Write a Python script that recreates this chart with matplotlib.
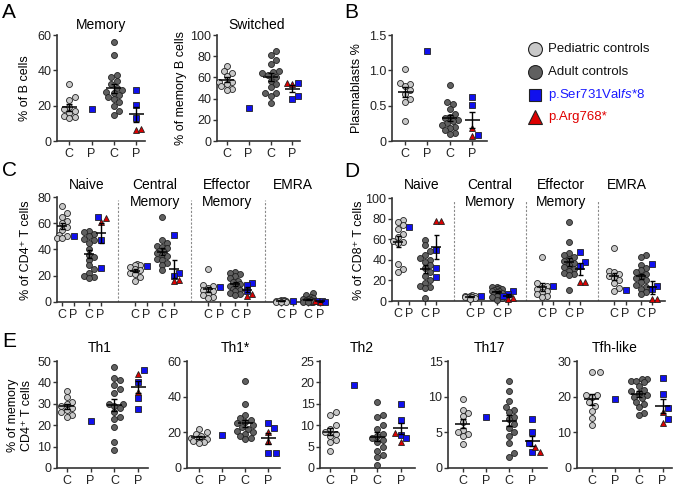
import numpy as np
import matplotlib
matplotlib.use('Agg')
import matplotlib.pyplot as plt

plt.rcParams['font.family'] = ['Liberation Sans', 'DejaVu Sans']
plt.rcParams['mathtext.fontset'] = 'custom'
plt.rcParams['mathtext.rm'] = 'Liberation Sans'
plt.rcParams['mathtext.it'] = 'Liberation Sans:italic'

W, H = 677, 486

# ---- A / B: B cell subsets (Memory, Switched, Plasmablasts)
b_ped = [
    [32.5, 25, 23, 19, 18, 17, 16, 14, 13.5, 13],
    [71, 66, 64, 61, 56, 56, 54, 52, 49, 48],
    [1.02, 0.82, 0.80, 0.78, 0.72, 0.66, 0.60, 0.55, 0.28],
]
b_p1 = [18, 31, 1.27]
b_adult = [
    [56, 48.5, 37.5, 36, 34, 32, 30, 29, 28, 27, 26, 25, 24, 22, 20, 17, 14.5],
    [85, 81, 76, 73, 66, 65, 64, 62, 60, 57, 54, 51, 45, 45, 42, 36],
    [0.79, 0.55, 0.52, 0.45, 0.38, 0.34, 0.32, 0.30, 0.28, 0.25, 0.22, 0.20, 0.18, 0.15, 0.12, 0.10],
]
b_blue = [[29, 20.5, 13], [55, 42, 40], [0.62, 0.51, 0.09]]
b_red = [[6.5, 7], [55, 54], [0.19, 0.07]]

# ---- C: CD4 subsets (Naive, Central Memory, Effector Memory, EMRA)
cd4_ped = [
    [73, 68, 65, 62, 60, 57, 55, 51, 50, 48.5, 48.5],
    [29, 28, 28, 27, 25, 24, 22, 21, 19, 16],
    [25, 13, 12, 11, 9, 8, 6, 5, 4, 3],
    [1.5, 1.2, 1, 1, 0.8, 0.5, 0.5, 0.3, 0.2, 0.1],
]
cd4_p1 = [50.5, 27.5, 11.5, 0.5]
cd4_adult = [
    [54, 53, 52, 50, 48, 47, 45, 40, 36, 34, 32, 28, 25, 22, 20, 19, 18],
    [65, 47, 45, 43, 42, 41, 39, 38, 37, 36, 35, 33, 32, 30, 28, 24],
    [23, 22, 21, 20, 18, 16, 15, 14, 13, 12, 11, 10, 9, 8, 7, 6, 5],
    [7, 5, 4, 3, 2.5, 2, 1.5, 1.2, 1, 0.8, 0.5, 0.5, 0.3, 0.2, 0.1, 0.1],
]
cd4_blue = [[64.5, 47, 26], [51, 22, 20], [14.5, 13, 8.5], [1.0, 0.6, 0.3]]
cd4_red = [[64, 61], [16, 17], [4.5, 6], [0.2, 0.4]]

# ---- D: CD8 subsets
cd8_ped = [
    [79, 77, 74, 70, 65, 62, 58, 57, 56, 36, 31, 28],
    [6, 5, 5, 4.5, 4, 4, 4, 3.5, 3, 2],
    [43, 17, 15, 13, 12, 10, 9, 7, 5, 4],
    [51, 29, 28, 26, 24, 22, 20, 17, 13, 10],
]
cd8_p1 = [71.5, 4.5, 14.5, 11]
cd8_adult = [
    [59, 54, 49, 45, 42, 40, 38, 35, 32, 28, 24, 20, 17, 15, 14, 13, 3],
    [14, 13.5, 13, 12, 12, 11, 10, 10, 9, 8, 7, 6, 5, 4, 3, 1],
    [77, 57, 47, 45, 43, 41, 39, 37, 35, 33, 31, 29, 27, 26, 25, 11],
    [45, 43, 35, 32, 30, 28, 26, 24, 22, 20, 18, 16, 14, 12, 9, 7],
]
cd8_blue = [[50, 32, 23], [9.5, 7, 5], [48, 38, 34], [36, 15, 12]]
cd8_red = [[78, 78], [3, 2], [18, 18], [2, 2]]

# ---- E: Th subsets (Th1, Th1*, Th2, Th17, Tfh-like)
th_ped = [
    [36, 33, 31, 30, 29, 28, 27, 26, 25, 24],
    [22, 20, 19, 18, 17, 16, 16, 15, 14.5, 14],
    [13, 12.5, 10, 9, 8.5, 8, 7.5, 6.5, 6, 4],
    [9.7, 8.2, 7.7, 7.3, 6.4, 5.3, 5, 4.7, 4.5, 3.3],
    [27, 27, 20.5, 20.5, 20, 18.5, 17.5, 16, 14, 12],
]
th_p1 = [22.1, 18.7, 19.5, 7.2, 19.3]
th_adult = [
    [47, 42, 41, 39, 37, 35, 30, 30, 29, 28, 26, 24, 23, 19, 12, 8.5],
    [49, 36, 30, 28, 27, 26, 25, 24, 23, 22, 21, 20, 19, 18, 17, 16],
    [15.5, 12.5, 12, 10, 9, 8, 7.5, 7, 6.5, 6, 5, 4, 3, 2.5, 0.8],
    [12.2, 10.8, 9.4, 8.5, 8.2, 7.8, 7.2, 6.8, 6.2, 5.6, 5, 4.5, 3.5, 2.1, 1.6],
    [25, 25, 24.5, 24.5, 24, 23, 22, 21.5, 21, 20.5, 20, 19.5, 18.5, 18, 17, 15.5, 14.8],
]
th_blue = [[46, 40, 32.8, 27.8], [25, 22.5, 8.5, 8.5], [15, 11.3, 7.7, 7.1],
           [6.8, 5, 3.5, 2.3], [25.3, 20.7, 16.7, 13.6]]
th_red = [[44, 35.6], [20, 15], [6.1, 8.2], [3, 2.3], [15.8, 12.7]]

sections = ['Naive', 'Central\nMemory', 'Effector\nMemory', 'EMRA']
th_names = ['Th1', 'Th1*', 'Th2', 'Th17', 'Tfh-like']

MK = {
    'ped': dict(marker='o', ms=4.3, mfc='#c8c8c8'),
    'adult': dict(marker='o', ms=4.3, mfc='#606060'),
    'blue': dict(marker='s', ms=4.0, mfc='#1010ee'),
    'red': dict(marker='^', ms=4.4, mfc='#dd0000'),
}

fig = plt.figure(figsize=(W / 100, H / 100), dpi=100)


def px_axes(x0, y0, x1, y1):
    return fig.add_axes([x0 / W, 1 - y1 / H, (x1 - x0) / W, (y1 - y0) / H])


def prism(ax, ylim, yticks, xlim, xpos, ylabels=None):
    ax.set_xlim(xlim)
    ax.set_ylim(ylim)
    ax.spines[['top', 'right']].set_visible(False)
    for s in ['left', 'bottom']:
        ax.spines[s].set_linewidth(1.2)
        ax.spines[s].set_color('#333333')
    ax.set_yticks(yticks)
    if ylabels:
        ax.set_yticklabels(ylabels)
    ax.set_xticks(xpos)
    ax.set_xticklabels(['C', 'P'] * (len(xpos) // 2))
    ax.tick_params(axis='both', length=3, width=1.0, color='#333333',
                   labelsize=9, labelcolor='#222222', pad=1)
    ax.tick_params(axis='x', pad=2)
    ax.patch.set_visible(False)


def swarm_x(ax, x0, vals, d, max_off):
    # simple beeswarm in pixel space; points may overlap once max_off is reached
    tr = ax.transData
    pix = tr.transform(np.column_stack([np.full(len(vals), x0), vals]))
    cx = pix[0, 0]
    placed = []
    out = np.empty(len(vals))
    step = d * 0.5
    nmax = int(max_off / step)
    cands = [0.0]
    for n in range(1, nmax + 1):
        cands += [n * step, -n * step]
    for i in np.argsort(vals):
        py = pix[i, 1]
        best, best_gap = 0.0, -1
        for off in cands:
            px = cx + off
            gap = min([np.hypot(px - qx, py - qy) for qx, qy in placed] + [99])
            if gap >= d:
                best = off
                break
            if gap > best_gap + 0.5:
                best, best_gap = off, gap
        placed.append((cx + best, py))
        out[i] = cx + best
    return tr.inverted().transform(np.column_stack([out, pix[:, 1]]))[:, 0]


def plot_group(ax, x0, vals, kinds, d=5.4, max_off=8.5, half_px=7.5, cap=2.5):
    vals = np.asarray(vals, dtype=float)
    kinds = np.asarray(kinds)
    xs = swarm_x(ax, x0, vals, d, max_off)
    for k in ['ped', 'adult', 'blue', 'red']:
        m = kinds == k
        if m.any():
            ax.plot(xs[m], vals[m], ls='none', mec='#222222', mew=0.6,
                    zorder=3, clip_on=False, **MK[k])
    if len(vals) > 1:
        mean = vals.mean()
        sem = vals.std(ddof=1) / np.sqrt(len(vals))
        u = ax.transData.transform([(1, 0)])[0, 0] - ax.transData.transform([(0, 0)])[0, 0]
        h = half_px / u
        ax.plot([x0 - h, x0 + h], [mean, mean], color='k', lw=1.1, zorder=4,
                solid_capstyle='butt')
        ax.errorbar([x0], [mean], yerr=[sem], fmt='none', ecolor='k',
                    elinewidth=1.0, capsize=cap, capthick=1.0, zorder=4)


def draw_set(ax, base, pos, ped, p1, adult, blue, red, **kw):
    plot_group(ax, base + pos[0], ped, ['ped'] * len(ped), **kw)
    plot_group(ax, base + pos[1], [p1], ['blue'], **kw)
    plot_group(ax, base + pos[2], adult, ['adult'] * len(adult), **kw)
    plot_group(ax, base + pos[3], blue + red,
               ['blue'] * len(blue) + ['red'] * len(red), **kw)


# ---- A / B
pos4 = [0, 1, 2, 3]
ab_rect = [(57, 35, 145, 141), (217, 35, 300, 141), (392, 35, 487, 141)]
ab_xlim = [(-0.55, 3.4), (-0.45, 3.35), (-0.58, 3.65)]
ab_ylim = [(0, 60), (0, 100), (0, 1.5)]
ab_ticks = [[0, 20, 40, 60], [0, 20, 40, 60, 80, 100], [0, 0.5, 1.0, 1.5]]
ab_tlab = [None, None, ['0', '0.5', '1.0', '1.5']]
for i in range(3):
    ax = px_axes(*ab_rect[i])
    prism(ax, ab_ylim[i], ab_ticks[i], ab_xlim[i], pos4, ab_tlab[i])
    draw_set(ax, 0, pos4, b_ped[i], b_p1[i], b_adult[i], b_blue[i], b_red[i])

# ---- C / D
pos_cd = [0, 1, 2.3, 3.3]
period = 6.2
cd_x = [b * period + p for b in range(4) for p in pos_cd]
for rect, xlim, ylim, ticks, ped, p1, adult, blue, red in [
        ((57, 197, 327, 302), (-0.4, 22.5), (0, 80), [0, 20, 40, 60, 80],
         cd4_ped, cd4_p1, cd4_adult, cd4_blue, cd4_red),
        ((392, 198, 665, 301), (-0.5, 23.0), (0, 100), [0, 20, 40, 60, 80, 100],
         cd8_ped, cd8_p1, cd8_adult, cd8_blue, cd8_red)]:
    ax = px_axes(*rect)
    prism(ax, ylim, ticks, xlim, cd_x)
    for s in range(4):
        draw_set(ax, s * period, pos_cd, ped[s], p1[s], adult[s], blue[s], red[s],
                 d=5.0, max_off=6.5, half_px=5, cap=1.8)
        if s < 3:
            xd = s * period + 4.8
            ax.plot([xd, xd], [0, ylim[1] * 0.975], color='#8a8a8a', lw=0.8,
                    ls=(0, (2, 1.5)), zorder=1)

# ---- E
e_rect = [(57, 361, 148, 468), (187, 361, 280, 468), (320, 361, 415, 468),
          (448, 361, 547, 468), (577, 361, 672, 468)]
e_xlim = [(-0.4, 3.4), (-0.5, 3.5), (-0.43, 3.6), (-0.65, 3.65), (-0.63, 3.4)]
e_ylim = [(0, 50), (0, 60), (0, 25), (0, 15), (0, 30)]
e_ticks = [[0, 10, 20, 30, 40, 50], [0, 20, 40, 60], [0, 5, 10, 15, 20, 25],
           [0, 5, 10, 15], [0, 10, 20, 30]]
for i in range(5):
    ax = px_axes(*e_rect[i])
    prism(ax, e_ylim[i], e_ticks[i], e_xlim[i], pos4)
    draw_set(ax, 0, pos4, th_ped[i], th_p1[i], th_adult[i], th_blue[i], th_red[i])

# ---- overlay for letters, titles, labels and legend (pixel coordinates)
lay = fig.add_axes([0, 0, 1, 1], zorder=5)
lay.set_xlim(0, W)
lay.set_ylim(H, 0)
lay.axis('off')

for letter, x, y in [('A', 2, 13), ('B', 344, 13), ('C', 2, 170), ('D', 344, 171), ('E', 2, 341)]:
    lay.text(x, y, letter, fontsize=15, ha='left', va='center')

for t, x, y in [('Memory', 101, 25), ('Switched', 257, 25)]:
    lay.text(x, y, t, fontsize=10, ha='center', va='center')

for xs_, in [([87, 155, 227, 293],), ([422, 490, 561, 627],)]:
    for name, x in zip(sections, xs_):
        for j, line in enumerate(name.split('\n')):
            lay.text(x, 185 + 17 * j, line, fontsize=10, ha='center', va='center')

for name, x in zip(th_names, [100, 235, 362, 490, 615]):
    lay.text(x, 348, name, fontsize=10, ha='center', va='center')

for t, x, y in [('% of B cells', 25, 88), ('% of memory B cells', 181, 88),
                ('Plasmablasts %', 357, 88), ('% of CD4⁺ T cells', 26, 250),
                ('% of CD8⁺ T cells', 359, 250), ('% of memory\nCD4⁺ T cells', 20, 415)]:
    lay.text(x, y, t, fontsize=9, rotation=90, ha='center', va='center',
             multialignment='center')

leg = [('o', 10, '#c8c8c8', 'Pediatric controls', '#111111'),
       ('o', 10, '#606060', 'Adult controls', '#111111'),
       ('s', 8.6, '#1010ee', r'p.Ser731Val$\it{fs}$*8', '#1a1aff'),
       ('^', 10, '#dd0000', 'p.Arg768*', '#e00000')]
for (mk, ms, fc, label, tc), y in zip(leg, [49, 72, 95, 117]):
    lay.plot([535], [y], marker=mk, ms=ms, mfc=fc, mec='#222222', mew=0.8, ls='none')
    lay.text(548, y, label, fontsize=9.5, color=tc, ha='left', va='center')

fig.savefig('out.png', dpi=100)
